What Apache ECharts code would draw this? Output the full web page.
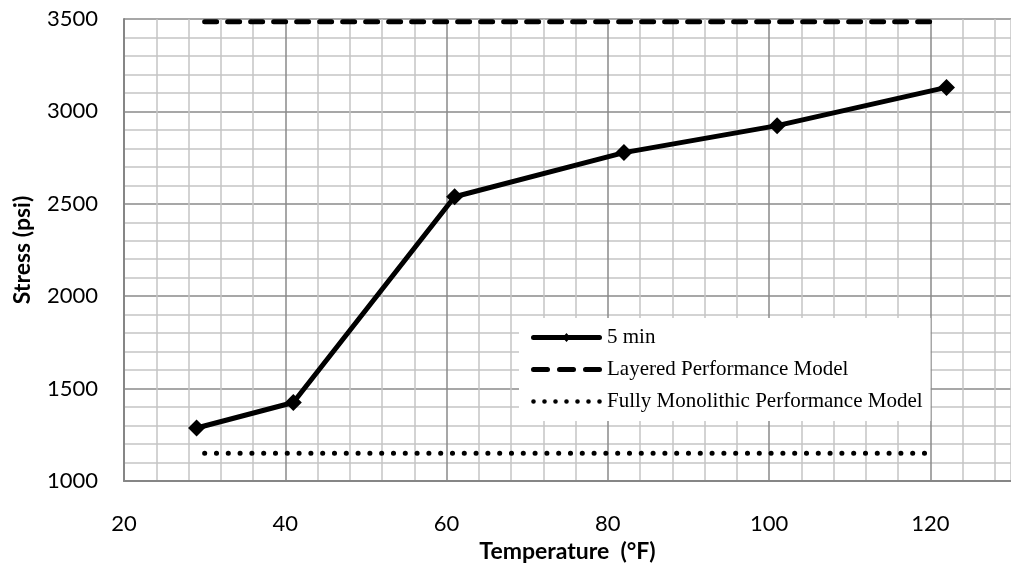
<!DOCTYPE html>
<html>
<head>
<meta charset="utf-8">
<script src="https://cdn.jsdelivr.net/npm/echarts@6/dist/echarts.min.js"></script>
<style>
  html, body { margin: 0; padding: 0; background: #fff; }
  #chart { width: 1011px; height: 567px; }
</style>
</head>
<body>
<div id="chart"></div>
<script>
// 温度 / 应力数据
var temps = [29, 41, 61, 82, 101, 122];
var stress5min = [1287, 1425, 2538, 2777, 2923, 3130];

var layeredTemps = [30, 120];
var layeredStress = [3485, 3485];

var monoTemps = [30, 120];
var monoStress = [1150, 1150];

var xTicks = [20, 40, 60, 80, 100, 120];
var yTicks = [1000, 1500, 2000, 2500, 3000, 3500];

function pairs(xs, ys) {
	var out = [];
	for(var i = 0; i < xs.length; i++) {
		out.push([xs[i], ys[i]]);
	}
	return out;
}

// 图例图标 (71 x 10)
function roundSeg(x1, x2) {
	return 'M' + (x1 + 2.5) + ',2.5 L' + (x2 - 2.5) + ',2.5 A2.5,2.5 0 0 1 ' + (x2 - 2.5) + ',7.5 L' +
		(x1 + 2.5) + ',7.5 A2.5,2.5 0 0 1 ' + (x1 + 2.5) + ',2.5 Z ';
}

function dot(cx) {
	return 'M' + (cx - 2.3) + ',5 A2.3,2.3 0 1 1 ' + (cx + 2.3) + ',5 A2.3,2.3 0 1 1 ' + (cx - 2.3) + ',5 Z ';
}

var iconSolid = 'path://M0,0 L0.01,0 ' + roundSeg(0, 71) + 'M35.5,0.5 L39.5,5 L35.5,9.5 L31.5,5 Z M71,10 L70.99,10';
var iconDash = 'path://M0,0 L0.01,0 ' + roundSeg(0, 19) + roundSeg(26, 45) + roundSeg(52, 71) + 'M71,10 L70.99,10';
var iconDot = 'path://M0,0 L0.01,0 ';
for(var d = 0; d < 7; d++) {
	iconDot += dot(2.5 + d * 11);
}
iconDot += 'M71,10 L70.99,10';

var major = '#8a8a8a';
var minor = '#c4c4c4';
var gridColors = [major, minor, minor, minor, minor];

var myChart = echarts.init(document.getElementById('chart'));

var option = {
	animation: false,
	backgroundColor: '#fff',
	grid: {
		left: 124,
		top: 19,
		right: 0,
		bottom: 86,
		outerBoundsMode: 'none'
	},
	legend: {
		orient: 'vertical',
		left: 519,
		top: 318,
		backgroundColor: '#fff',
		padding: [9, 8, 9, 12],
		itemWidth: 71,
		itemHeight: 10,
		itemGap: 11,
		symbolKeepAspect: false,
		textStyle: {
			fontFamily: 'Liberation Serif',
			fontSize: 21,
			color: '#000'
		},
		data: [
			{ name: '5 min', icon: iconSolid },
			{ name: 'Layered Performance Model', icon: iconDash },
			{ name: 'Fully Monolithic Performance Model', icon: iconDot }
		]
	},
	xAxis: {
		type: 'value',
		min: 20,
		max: 130,
		interval: 4,
		name: 'Temperature  (°F)',
		nameLocation: 'middle',
		nameGap: 52,
		nameTextStyle: {
			fontFamily: 'Lato',
			fontWeight: 'bold',
			fontSize: 23,
			color: '#000'
		},
		axisLine: { show: true, lineStyle: { color: '#868686', width: 2 } },
		axisTick: { show: false },
		axisLabel: {
			margin: 32,
			fontFamily: 'Lato',
			fontSize: 22,
			color: '#000',
			formatter: function(v) {
				return xTicks.indexOf(v) >= 0 ? String(v) : '';
			}
		},
		splitLine: { show: true, lineStyle: { color: gridColors, width: 1.5 } }
	},
	yAxis: {
		type: 'value',
		min: 1000,
		max: 3500,
		interval: 100,
		name: 'Stress (psi)',
		nameLocation: 'middle',
		nameGap: 90,
		nameTextStyle: {
			fontFamily: 'Lato',
			fontWeight: 'bold',
			fontSize: 23,
			color: '#000'
		},
		axisLine: { show: true, lineStyle: { color: '#868686', width: 2 } },
		axisTick: { show: false },
		axisLabel: {
			margin: 26,
			fontFamily: 'Lato',
			fontSize: 22,
			color: '#000',
			formatter: function(v) {
				return yTicks.indexOf(v) >= 0 ? String(v) : '';
			}
		},
		splitLine: { show: true, lineStyle: { color: gridColors, width: 1.5 } }
	},
	series: [{
		name: '5 min',
		type: 'line',
		data: pairs(temps, stress5min),
		symbol: 'diamond',
		symbolSize: 17,
		lineStyle: { color: '#000', width: 5 },
		itemStyle: { color: '#000' },
		z: 5
	}, {
		name: 'Layered Performance Model',
		type: 'line',
		data: pairs(layeredTemps, layeredStress),
		showSymbol: false,
		symbol: 'none',
		lineStyle: { color: '#000', width: 5, type: [12, 11], cap: 'round' },
		itemStyle: { color: '#000' }
	}, {
		name: 'Fully Monolithic Performance Model',
		type: 'line',
		data: pairs(monoTemps, monoStress),
		showSymbol: false,
		symbol: 'none',
		lineStyle: { color: '#000', width: 5, type: [0.1, 11.7], cap: 'round' },
		itemStyle: { color: '#000' }
	}]
};

myChart.setOption(option);
</script>
</body>
</html>
